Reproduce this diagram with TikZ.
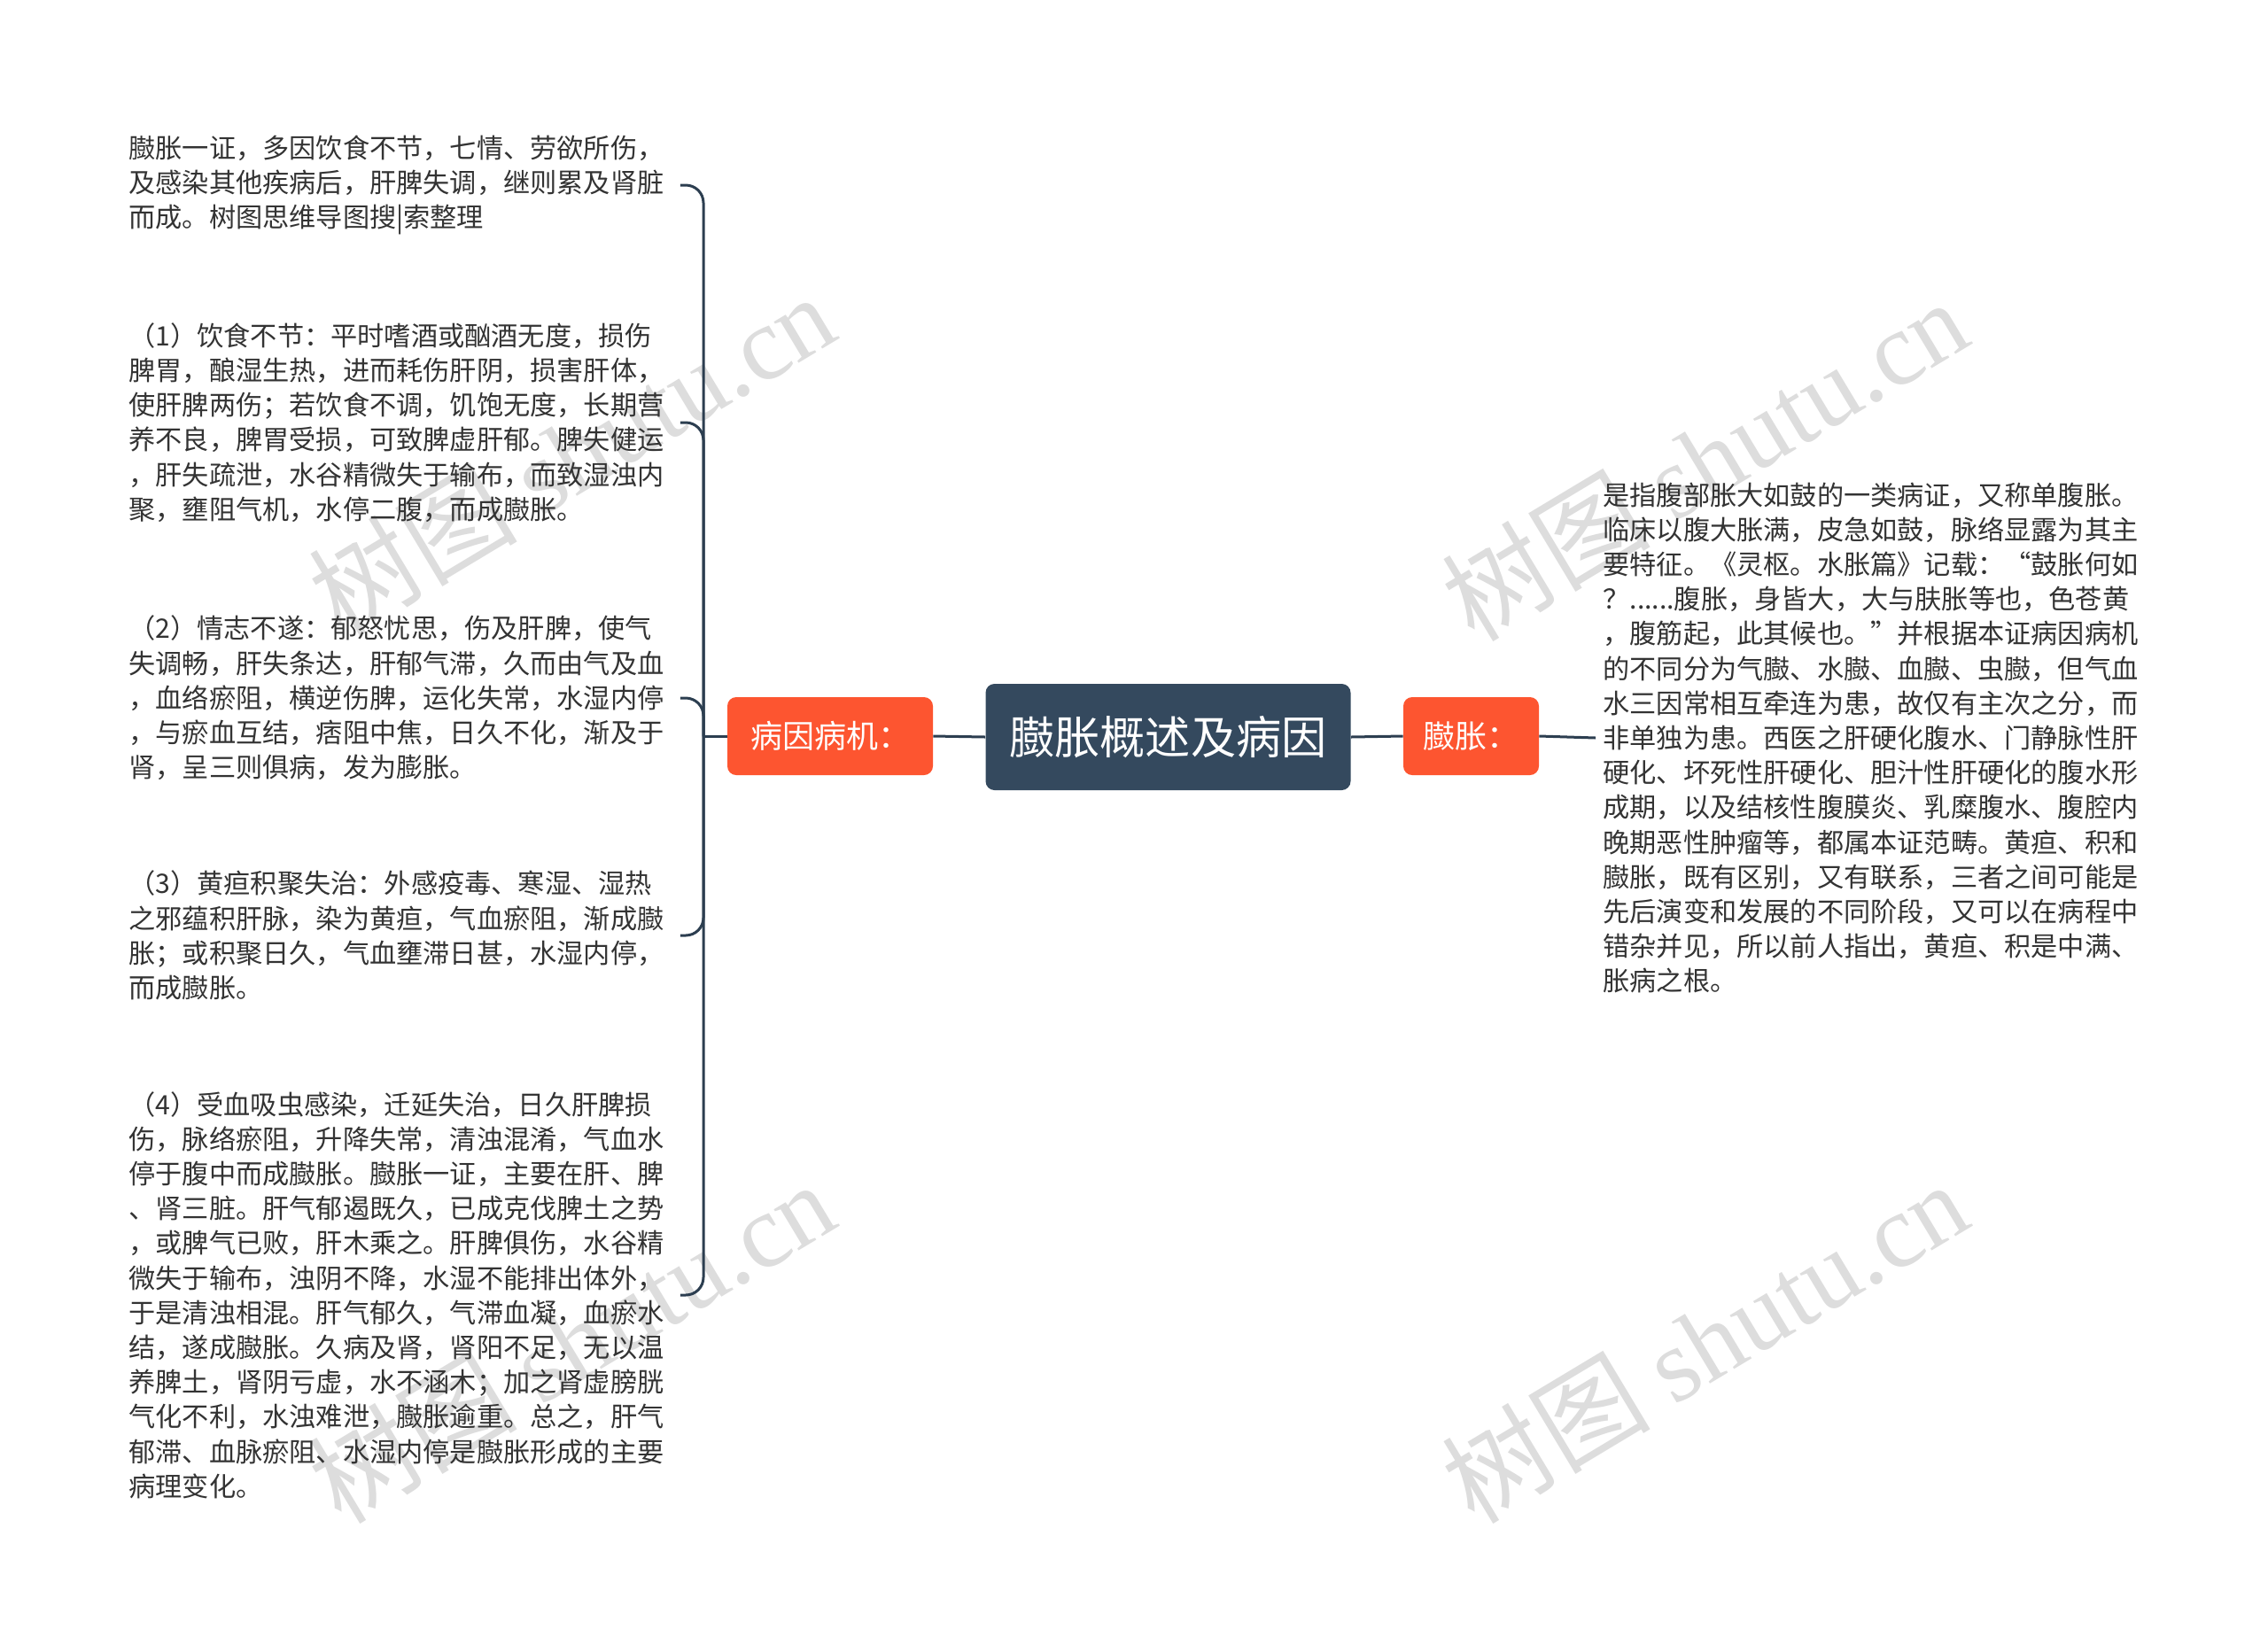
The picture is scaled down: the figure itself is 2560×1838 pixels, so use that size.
\documentclass[tikz,border=0pt]{standalone}
\usepackage{fontspec}
\setmainfont{Noto Sans CJK SC}
\newfontfamily\wmserif{Liberation Serif}
\definecolor{darkbox}{HTML}{34495E}
\definecolor{lineclr}{HTML}{2C3E50}
\definecolor{orng}{HTML}{FD5530}
\definecolor{txt}{HTML}{333333}
\definecolor{wmclr}{HTML}{D4D4D4}
\begin{document}
\begin{tikzpicture}[x=0.5pt,y=-0.5pt,
 rootbox/.style={fill=darkbox, rounded corners=5pt, text=white, font=\fontsize{25.6}{30}\selectfont, minimum width=206pt, minimum height=60pt, inner sep=0pt},
 subbox/.style={fill=orng, rounded corners=5pt, text=white, font=\fontsize{18}{22}\selectfont, minimum height=44pt, inner sep=0pt},
 leaf/.style={text=txt, font=\fontsize{15.1}{19.6}\selectfont, align=left, text width=310pt, inner sep=4pt, anchor=west},
 conn/.style={draw=lineclr, line width=1.5pt},
 wmark/.style={text=wmclr, font=\fontsize{59}{70}\selectfont, rotate=31, opacity=0.8}
]
\useasboundingbox (0,0) rectangle (2560,1838);
% watermarks
\node[wmark] (w1) at (645,512) {树图 {\wmserif shutu.cn}};
\node[wmark] (w2) at (1924,518) {树图 {\wmserif shutu.cn}};
\node[wmark] (w3) at (645,1514) {树图 {\wmserif shutu.cn}};
\node[wmark] (w4) at (1924,1514) {树图 {\wmserif shutu.cn}};
% main nodes
\node[rootbox] (root) at (1318.5,832) {臌胀概述及病因};
\node[subbox, minimum width=116pt] (pl) at (937,831) {病因病机：};
\node[subbox, minimum width=76.5pt] (pr) at (1660.5,831) {臌胀：};
% left leaves
\node[leaf] (c0) at (137,209) {臌胀一证，多因饮食不节，七情、劳欲所伤，\\及感染其他疾病后，肝脾失调，继则累及肾脏\\而成。树图思维导图搜|索整理};
\node[leaf] (c1) at (137,477) {（1）饮食不节：平时嗜酒或酗酒无度，损伤\\脾胃，酿湿生热，进而耗伤肝阴，损害肝体，\\使肝脾两伤；若饮食不调，饥饱无度，长期营\\养不良，脾胃受损，可致脾虚肝郁。脾失健运\\，肝失疏泄，水谷精微失于输布，而致湿浊内\\聚，壅阻气机，水停二腹，而成臌胀。};
\node[leaf] (c2) at (137,788) {（2）情志不遂：郁怒忧思，伤及肝脾，使气\\失调畅，肝失条达，肝郁气滞，久而由气及血\\，血络瘀阻，横逆伤脾，运化失常，水湿内停\\，与瘀血互结，痞阻中焦，日久不化，渐及于\\肾，呈三则俱病，发为膨胀。};
\node[leaf] (c3) at (137,1056) {（3）黄疸积聚失治：外感疫毒、寒湿、湿热\\之邪蕴积肝脉，染为黄疸，气血瘀阻，渐成臌\\胀；或积聚日久，气血壅滞日甚，水湿内停，\\而成臌胀。};
\node[leaf] (c4) at (137,1462) {（4）受血吸虫感染，迁延失治，日久肝脾损\\伤，脉络瘀阻，升降失常，清浊混淆，气血水\\停于腹中而成臌胀。臌胀一证，主要在肝、脾\\、肾三脏。肝气郁遏既久，已成克伐脾土之势\\，或脾气已败，肝木乘之。肝脾俱伤，水谷精\\微失于输布，浊阴不降，水湿不能排出体外，\\于是清浊相混。肝气郁久，气滞血凝，血瘀水\\结，遂成臌胀。久病及肾，肾阳不足，无以温\\养脾土，肾阴亏虚，水不涵木；加之肾虚膀胱\\气化不利，水浊难泄，臌胀逾重。总之，肝气\\郁滞、血脉瘀阻、水湿内停是臌胀形成的主要\\病理变化。};
% right leaf
\node[leaf] (rt) at (1801,833) {是指腹部胀大如鼓的一类病证，又称单腹胀。\\临床以腹大胀满，皮急如鼓，脉络显露为其主\\要特征。《灵枢。水胀篇》记载：“鼓胀何如\\？......腹胀，身皆大，大与肤胀等也，色苍黄\\，腹筋起，此其候也。”并根据本证病因病机\\的不同分为气臌、水臌、血臌、虫臌，但气血\\水三因常相互牵连为患，故仅有主次之分，而\\非单独为患。西医之肝硬化腹水、门静脉性肝\\硬化、坏死性肝硬化、胆汁性肝硬化的腹水形\\成期，以及结核性腹膜炎、乳糜腹水、腹腔内\\晚期恶性肿瘤等，都属本证范畴。黄疸、积和\\臌胀，既有区别，又有联系，三者之间可能是\\先后演变和发展的不同阶段，又可以在病程中\\错杂并见，所以前人指出，黄疸、积是中满、\\胀病之根。};
% connectors
\draw[conn] (root.west) -- (pl.east);
\draw[conn] (root.east) -- (pr.west);
\draw[conn] (pr.east) -- (rt.west);
\coordinate (bj) at (794,831);
\draw[conn] (pl.west) -- (bj);
\foreach \c in {c0,c1,c2,c3,c4} {
  \draw[conn, rounded corners=10pt] (bj) |- ([xshift=-3pt]\c.east);
}
\end{tikzpicture}
\end{document}
